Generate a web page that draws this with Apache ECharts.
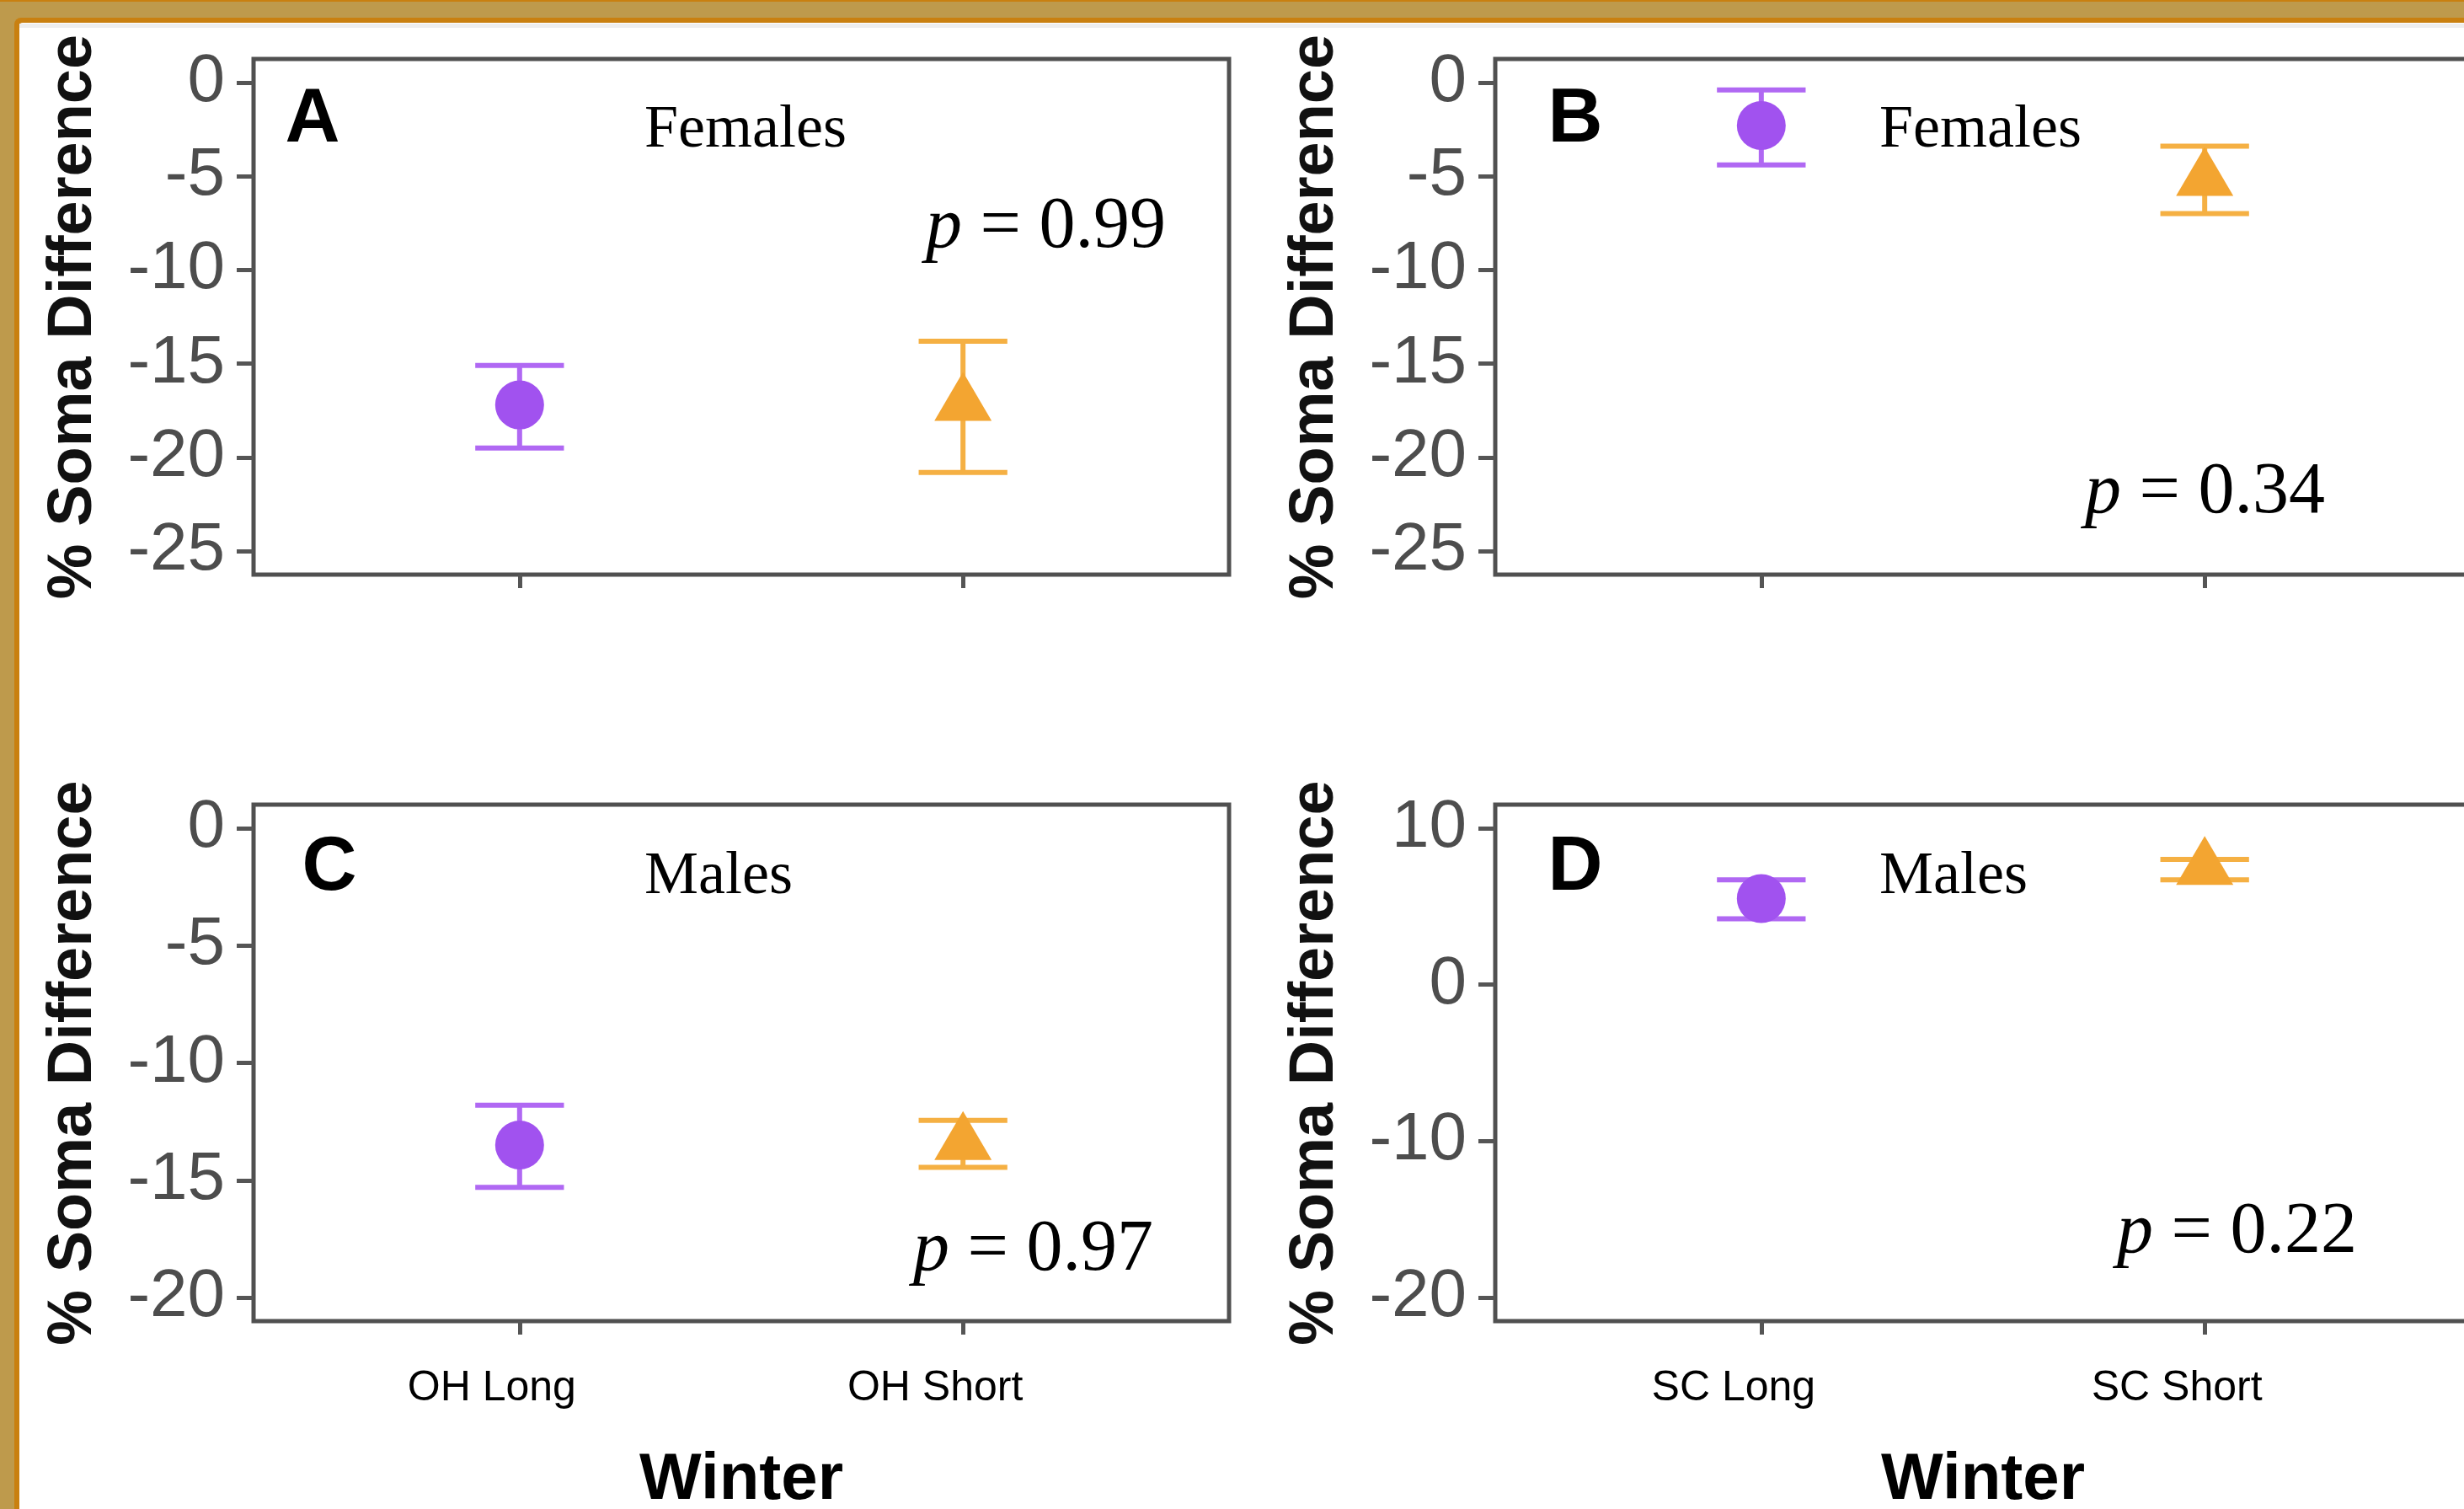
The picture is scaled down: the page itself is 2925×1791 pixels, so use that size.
<!DOCTYPE html>
<html>
<head>
<meta charset="utf-8">
<title>% Soma Difference by winter</title>
<script src="https://cdn.jsdelivr.net/npm/echarts@6/dist/echarts.min.js"></script>
<style>
    html, body { margin: 0; padding: 0; background: #fff; }
    #main { width: 2925px; height: 1791px; }
</style>
</head>
<body>
<div id="main"></div>
<script>
// category labels (x = 1, 2)
var labelsOH = ['OH Long', 'OH Short'];
var labelsSC = ['SC Long', 'SC Short'];

// means and error bar ends, [Long, Short]
var meanA = [-17.2, -17.2];
var lowA = [-19.5, -20.8];
var highA = [-15.1, -13.8];

var meanB = [-2.3, -5.2];
var lowB = [-4.4, -7.0];
var highB = [-0.4, -3.4];

var meanC = [-13.5, -13.45];
var lowC = [-15.3, -14.45];
var highC = [-11.8, -12.45];

var meanD = [5.5, 7.4];
var lowD = [4.2, 6.7];
var highD = [6.7, 8.0];

// y tick labels
var ticksFemale = [-25, -20, -15, -10, -5, 0];
var ticksMaleOH = [-20, -15, -10, -5, 0];
var ticksMaleSC = [-20, -10, 0, 10];

var letters = ['A', 'B', 'C', 'D'];
var sexes = ['Females', 'Females', 'Males', 'Males'];
var pValues = ['0.99', '0.34', '0.97', '0.22'];

var purple = '#a152ef';
var purpleBar = '#b068f3';
var orange = '#f3a531';
var orangeBar = '#f5b043';
var sans = 'Liberation Sans';
var serif = 'Liberation Serif';

var panels = [
    { mean: meanA, low: lowA, high: highA, ticks: ticksFemale, labels: labelsOH, bottom: false,
      grid: { left: 301, top: 70, width: 1158, height: 612 },
      letterPos: [371, 143], sexPos: [765, 155], pPos: [1099, 270] },
    { mean: meanB, low: lowB, high: highB, ticks: ticksFemale, labels: labelsSC, bottom: false,
      grid: { left: 1775, top: 70, width: 1158, height: 612 },
      letterPos: [1870, 143], sexPos: [2231, 155], pPos: [2475, 585] },
    { mean: meanC, low: lowC, high: highC, ticks: ticksMaleOH, labels: labelsOH, bottom: true,
      grid: { left: 301, top: 955, width: 1158, height: 613 },
      letterPos: [391, 1031], sexPos: [765, 1041], pPos: [1084, 1484] },
    { mean: meanD, low: lowD, high: highD, ticks: ticksMaleSC, labels: labelsSC, bottom: true,
      grid: { left: 1775, top: 955, width: 1158, height: 613 },
      letterPos: [1870, 1031], sexPos: [2231, 1041], pPos: [2513, 1463] }
];

var grids = [], xAxes = [], yAxes = [], series = [], graphics = [];

// frame round the figure
graphics.push({ type: 'rect', z: -10, silent: true, shape: { x: 0, y: 0, width: 2925, height: 1791 }, style: { fill: '#be9a4c' } });
graphics.push({ type: 'rect', z: -10, silent: true, shape: { x: 0, y: 0, width: 2925, height: 2 }, style: { fill: '#c98010' } });
graphics.push({ type: 'rect', z: -10, silent: true, shape: { x: 17, y: 21, width: 2950, height: 1800, r: 8 }, style: { fill: '#c98010' } });
graphics.push({ type: 'rect', z: -10, silent: true, shape: { x: 23, y: 27, width: 2950, height: 1800, r: 4 }, style: { fill: '#ffffff' } });
graphics.push({ type: 'rect', z: -10, silent: true, shape: { x: 23, y: 28, width: 2950, height: 5 }, style: { fill: '#eeeeee' } });

panels.forEach(function(p, i) {
    var tMin = p.ticks[0], tMax = p.ticks[p.ticks.length - 1];
    var pad = (tMax - tMin) * 0.05;

    grids.push({
        left: p.grid.left, top: p.grid.top, width: p.grid.width, height: p.grid.height,
        outerBoundsMode: 'none',
        containLabel: false,
        show: true, borderColor: '#505050', borderWidth: 5, backgroundColor: 'transparent'
    });

    xAxes.push({
        gridIndex: i,
        type: 'value',
        min: 0.4,
        max: 2.6,
        axisLine: { show: false, onZero: false },
        splitLine: { show: false },
        axisTick: { show: true, length: 16, customValues: [1, 2], lineStyle: { color: '#555', width: 5 } },
        axisLabel: {
            show: p.bottom,
            customValues: [1, 2],
            margin: 55,
            padding: [0, 66, 0, 0],
            color: '#000',
            fontFamily: sans,
            fontSize: 50,
            formatter: function(v) { return p.labels[Math.round(v) - 1]; }
        },
        name: p.bottom ? 'Winter' : '',
        nameLocation: 'middle',
        nameGap: 150,
        nameTextStyle: { color: '#000', fontFamily: sans, fontWeight: 'bold', fontSize: 78 }
    });

    yAxes.push({
        gridIndex: i,
        type: 'value',
        min: tMin - pad,
        max: tMax + pad,
        axisLine: { show: false, onZero: false },
        splitLine: { show: false },
        axisTick: { show: true, length: 20, customValues: p.ticks, lineStyle: { color: '#555', width: 5 } },
        axisLabel: { customValues: p.ticks, margin: 34, color: '#4d4d4d', fontFamily: sans, fontSize: 80 },
        name: '% Soma Difference',
        nameLocation: 'middle',
        nameGap: 176,
        nameTextStyle: { color: '#111', fontFamily: sans, fontWeight: 'bold', fontSize: 74 }
    });

    // error bars
    series.push({
        type: 'custom',
        xAxisIndex: i,
        yAxisIndex: i,
        data: [[1, p.low[0], p.high[0]], [2, p.low[1], p.high[1]]],
        renderItem: function(params, api) {
            var x = api.value(0);
            var top = api.coord([x, api.value(2)]);
            var bot = api.coord([x, api.value(1)]);
            var l = api.coord([x - 0.1, 0])[0];
            var r = api.coord([x + 0.1, 0])[0];
            var style = { stroke: params.dataIndex === 0 ? purpleBar : orangeBar, lineWidth: 6 };
            return {
                type: 'group',
                children: [
                    { type: 'line', shape: { x1: top[0], y1: top[1], x2: bot[0], y2: bot[1] }, style: style },
                    { type: 'line', shape: { x1: l, y1: top[1], x2: r, y2: top[1] }, style: style },
                    { type: 'line', shape: { x1: l, y1: bot[1], x2: r, y2: bot[1] }, style: style }
                ]
            };
        },
        z: 3
    });

    // means
    series.push({
        type: 'scatter',
        xAxisIndex: i,
        yAxisIndex: i,
        symbol: 'circle',
        symbolSize: 58,
        itemStyle: { color: purple, opacity: 1 },
        data: [[1, p.mean[0]]],
        z: 4
    });
    series.push({
        type: 'scatter',
        xAxisIndex: i,
        yAxisIndex: i,
        symbol: 'triangle',
        symbolSize: [68, 58],
        symbolOffset: [0, -10],
        itemStyle: { color: orange, opacity: 1 },
        data: [[2, p.mean[1]]],
        z: 4
    });

    // panel letter, sex and p value
    graphics.push({
        type: 'text', x: p.letterPos[0], y: p.letterPos[1], silent: true,
        style: { text: letters[i], fill: '#000', font: 'bold 90px "' + sans + '"', align: 'center', verticalAlign: 'middle' }
    });
    graphics.push({
        type: 'text', x: p.sexPos[0], y: p.sexPos[1], silent: true,
        style: { text: sexes[i], fill: '#000', font: '72px "' + serif + '"', align: 'left', verticalAlign: 'middle' }
    });
    graphics.push({
        type: 'text', x: p.pPos[0], y: p.pPos[1], silent: true,
        style: {
            text: '{i|p}{n| = ' + pValues[i] + '}',
            fill: '#000',
            align: 'left',
            verticalAlign: 'middle',
            fontFamily: serif,
            fontSize: 86,
            rich: {
                i: { fontFamily: serif, fontSize: 86, fontStyle: 'italic', fill: '#000' },
                n: { fontFamily: serif, fontSize: 86, fill: '#000' }
            }
        }
    });
});

var chart = echarts.init(document.getElementById('main'));
chart.setOption({
    backgroundColor: '#fff',
    animation: false,
    grid: grids,
    xAxis: xAxes,
    yAxis: yAxes,
    series: series,
    graphic: { elements: graphics }
});
</script>
</body>
</html>
